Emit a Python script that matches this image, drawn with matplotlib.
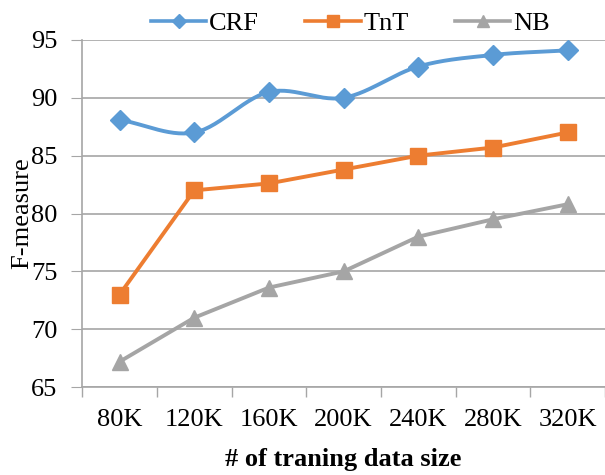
import numpy as np
import matplotlib.pyplot as plt

plt.rcParams['font.family'] = ['Liberation Serif', 'DejaVu Serif']

sizes = ['80K', '120K', '160K', '200K', '240K', '280K', '320K']
crf = [88.1, 87.0, 90.5, 90.0, 92.7, 93.7, 94.1]
tnt = [73.0, 82.0, 82.6, 83.8, 85.0, 85.7, 87.0]
nb = [67.2, 71.0, 73.6, 75.0, 78.0, 79.5, 80.8]


def smooth(x, y, n=30):
    # Catmull-Rom style curve, similar to Excel's smoothed line
    x = np.asarray(x, float)
    y = np.asarray(y, float)
    px = np.concatenate([[2 * x[0] - x[1]], x, [2 * x[-1] - x[-2]]])
    py = np.concatenate([[2 * y[0] - y[1]], y, [2 * y[-1] - y[-2]]])
    xs, ys = [], []
    t = np.linspace(0, 1, n)
    for i in range(1, len(px) - 2):
        for p, out in ((px, xs), (py, ys)):
            p0, p1, p2, p3 = p[i - 1], p[i], p[i + 1], p[i + 2]
            out.extend(0.5 * ((2 * p1) + (-p0 + p2) * t
                              + (2 * p0 - 5 * p1 + 4 * p2 - p3) * t ** 2
                              + (-p0 + 3 * p1 - 3 * p2 + p3) * t ** 3))
    return xs, ys


x = np.arange(len(sizes))
fig = plt.figure(figsize=(6.05, 4.75), dpi=100)
ax = fig.add_axes([0.136, 0.185, 0.864, 0.731])

grid_c = '#A6A6A6'
series = [('CRF', crf, '#5B9BD5', 'D', 10, True),
          ('TnT', tnt, '#ED7D31', 's', 11, False),
          ('NB', nb, '#A5A5A5', '^', 11, False)]
for name, vals, c, m, ms, sm in series:
    if sm:
        sx, sy = smooth(x, vals)
    else:
        sx, sy = x, vals
    ax.plot(sx, sy, color=c, lw=2.8, zorder=3)
    ax.plot(x, vals, ls='none', marker=m, ms=ms, color=c, zorder=4)
    ax.plot([], [], color=c, lw=2.6, marker=m, ms=ms * 0.75, label=name)

ax.set_xlim(-0.5, len(sizes) - 0.5)
ax.set_ylim(65, 95)
ax.set_yticks(np.arange(65, 96, 5))
ax.set_xticks(x)
ax.set_xticklabels(sizes)
ax.set_xticks(np.arange(-0.5, len(sizes), 1), minor=True)
ax.tick_params(axis='x', which='major', length=0, labelsize=19, pad=16)
ax.tick_params(axis='x', which='minor', length=7, color=grid_c, width=1)
ax.tick_params(axis='y', length=8, color=grid_c, labelsize=19, pad=10)
ax.grid(axis='y', color=grid_c, lw=1.2, zorder=0)
for s in ['top', 'right']:
    ax.spines[s].set_visible(False)
for s in ['left', 'bottom']:
    ax.spines[s].set_color(grid_c)
    ax.spines[s].set_linewidth(1.2)

ax.set_xlabel('# of traning data size', fontsize=19, fontweight='bold', labelpad=12)
ax.set_ylabel('F-measure', fontsize=19)
ax.yaxis.set_label_coords(-0.094, 0.5)

fig.legend(loc='upper center', bbox_to_anchor=(0.579, 1.025), ncol=3, frameon=False,
           fontsize=19, handlelength=2.1, columnspacing=1.75, handletextpad=0.1)

fig.savefig('out.png', dpi=100)
